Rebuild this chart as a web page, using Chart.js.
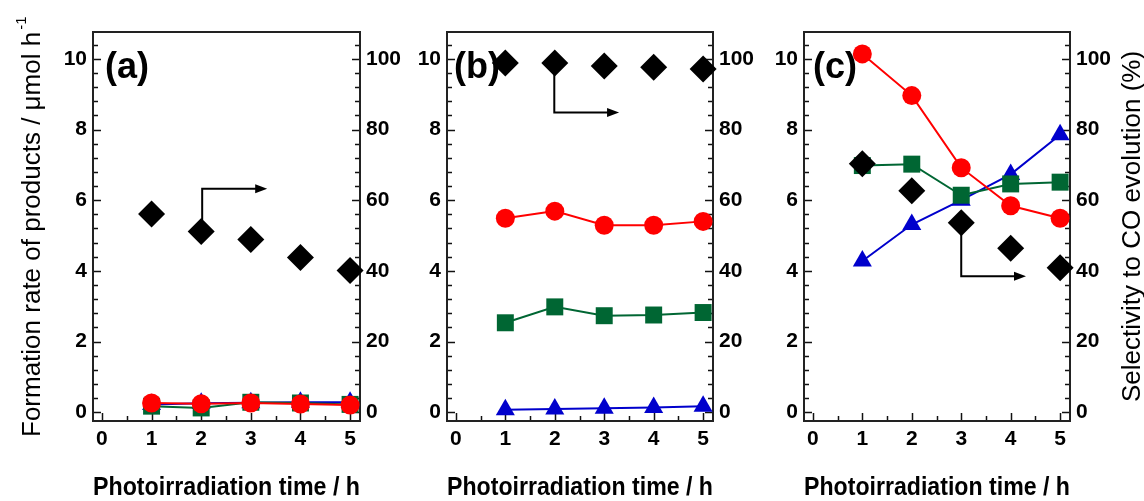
<!DOCTYPE html>
<html>
<head>
<meta charset="utf-8">
<title>Photoirradiation time course</title>
<script src="https://cdn.jsdelivr.net/npm/chart.js@4.4.1/dist/chart.umd.min.js"></script>
<style>
  html, body { margin: 0; padding: 0; background: #fff; }
  #wrap { position: relative; width: 1144px; height: 501px; overflow: hidden; }
  #wrap canvas { position: absolute; top: 0; }
</style>
</head>
<body>
<div id="wrap">
  <canvas id="chartA" width="410" height="501" style="left:0px"></canvas>
  <canvas id="chartB" width="370" height="501" style="left:400px"></canvas>
  <canvas id="chartC" width="384" height="501" style="left:760px"></canvas>
</div>

<script>
// x values (h) and tick labels
const hours = [1, 2, 3, 4, 5];
const xTicks = [0, 1, 2, 3, 4, 5];
const rateTicks = [0, 2, 4, 6, 8, 10];
const selTicks = [0, 20, 40, 60, 80, 100];

// (a) formation rate / umol h-1 and CO selectivity / %
const coA = [0.26, 0.24, 0.26, 0.23, 0.20];
const o2A = [0.17, 0.12, 0.28, 0.26, 0.22];
const h2A = [0.22, 0.25, 0.27, 0.28, 0.28];
const selA = [56.1, 51.1, 48.9, 43.8, 40.1];

// (b)
const coB = [5.49, 5.69, 5.29, 5.29, 5.40];
const o2B = [2.53, 2.98, 2.73, 2.75, 2.82];
const h2B = [0.07, 0.09, 0.11, 0.13, 0.17];
const selB = [98.8, 98.8, 98.0, 97.6, 97.1];

// (c)
const coC = [10.14, 8.96, 6.92, 5.84, 5.49];
const o2C = [6.98, 7.02, 6.14, 6.46, 6.51];
const h2C = [4.28, 5.31, 6.00, 6.73, 7.85];
const selC = [70.3, 62.7, 53.6, 46.4, 40.9];

const FONT = '"Liberation Sans", Arial, sans-serif';
const RED = "#ff0000";
const GREEN = "#006633";
const BLUE = "#0000cc";

function pts(arr) {
  return hours.map((h, i) => ({ x: h, y: arr[i] }));
}

// inward ticks, frame, panel letter, arrow and rotated axis titles
const decor = {
  id: "decor",
  beforeDatasetsDraw(chart, args, opts) {
    const { ctx, chartArea: a, scales } = chart;
    const x = scales.x, y = scales.y;
    ctx.save();
    ctx.strokeStyle = "#111";
    ctx.lineWidth = 1.5;
    ctx.beginPath();
    for (let k = 0; k <= 26; k++) {
      const py = Math.round(y.getPixelForValue(k * 0.4)) + 0.5;
      const len = k % 5 === 0 ? 8 : 5;
      ctx.moveTo(a.left, py); ctx.lineTo(a.left + len, py);
      ctx.moveTo(a.right, py); ctx.lineTo(a.right - len, py);
    }
    for (let k = 0; k <= 10; k++) {
      const px = Math.round(x.getPixelForValue(k * 0.5)) + 0.5;
      const len = k % 2 === 0 ? 8 : 5;
      ctx.moveTo(px, a.bottom); ctx.lineTo(px, a.bottom - len);
    }
    ctx.stroke();
    ctx.lineWidth = 2;
    ctx.strokeStyle = "#222";
    ctx.strokeRect(a.left, a.top, a.right - a.left, a.bottom - a.top);

    // selectivity arrow
    if (opts.arrow) {
      const p = opts.arrow.map(q => [x.getPixelForValue(q[0]), y.getPixelForValue(q[1])]);
      ctx.strokeStyle = "#000";
      ctx.fillStyle = "#000";
      ctx.lineWidth = 2;
      ctx.beginPath();
      ctx.moveTo(p[0][0], p[0][1]);
      for (let i = 1; i < p.length; i++) ctx.lineTo(p[i][0] - (i === p.length - 1 ? 8 : 0), p[i][1]);
      ctx.stroke();
      const [ex, ey] = p[p.length - 1];
      ctx.beginPath();
      ctx.moveTo(ex, ey);
      ctx.lineTo(ex - 12, ey - 4.5);
      ctx.lineTo(ex - 12, ey + 4.5);
      ctx.closePath();
      ctx.fill();
    }

    // panel letter
    ctx.fillStyle = "#000";
    ctx.font = "bold 36px " + FONT;
    ctx.textAlign = "left";
    ctx.textBaseline = "alphabetic";
    ctx.fillText(opts.letter, x.getPixelForValue(0) + opts.letterDx, 78);
    ctx.restore();
  },
  afterDraw(chart, args, opts) {
    const { ctx } = chart;
    ctx.save();
    ctx.fillStyle = "#000";
    ctx.textAlign = "left";
    ctx.textBaseline = "alphabetic";
    if (opts.leftTitle) {
      ctx.translate(40, 437);
      ctx.rotate(-Math.PI / 2);
      ctx.font = "26px " + FONT;
      ctx.fillText(opts.leftTitle, 0, 0);
      const w = ctx.measureText(opts.leftTitle).width;
      ctx.font = "15px " + FONT;
      ctx.fillText("-1", w + 2, -14);
    }
    if (opts.rightTitle) {
      ctx.translate(380, 402);
      ctx.rotate(-Math.PI / 2);
      ctx.font = "26px " + FONT;
      ctx.fillText(opts.rightTitle, 0, 0);
    }
    ctx.restore();
  }
};

function makePanel(id, data, layout, deco) {
  const tickFont = { family: FONT, size: 21, weight: "bold" };

  return new Chart(document.getElementById(id), {
    type: "line",
    data: {
      datasets: [
        {
          label: "Selectivity",
          data: pts(data.sel),
          yAxisID: "y2",
          showLine: false,
          pointStyle: "rectRot",
          pointRadius: 13.5,
          pointBackgroundColor: "#000",
          pointBorderColor: "#000",
          pointBorderWidth: 0,
          order: 0
        },
        {
          label: "CO",
          data: pts(data.co),
          yAxisID: "y",
          borderColor: RED,
          borderWidth: 2,
          pointStyle: "circle",
          pointRadius: 9.5,
          pointBackgroundColor: RED,
          pointBorderColor: RED,
          pointBorderWidth: 0,
          order: 1
        },
        {
          label: "O2",
          data: pts(data.o2),
          yAxisID: "y",
          borderColor: GREEN,
          borderWidth: 2,
          pointStyle: "rect",
          pointRadius: 12,
          pointBackgroundColor: GREEN,
          pointBorderColor: GREEN,
          pointBorderWidth: 0,
          order: 2
        },
        {
          label: "H2",
          data: pts(data.h2),
          yAxisID: "y",
          borderColor: BLUE,
          borderWidth: 2,
          pointStyle: "triangle",
          pointRadius: 11,
          pointBackgroundColor: BLUE,
          pointBorderColor: BLUE,
          pointBorderWidth: 0,
          order: 3
        }
      ]
    },
    options: {
      responsive: false,
      animation: false,
      clip: false,
      layout: { padding: { top: 32, left: 0, right: 0, bottom: 0 } },
      plugins: {
        legend: { display: false },
        tooltip: { enabled: false },
        decor: deco
      },
      elements: { line: { tension: 0, fill: false } },
      scales: {
        x: {
          type: "linear",
          min: -0.18,
          max: 5.2,
          afterBuildTicks: s => { s.ticks = xTicks.map(v => ({ value: v })); },
          afterFit: s => { s.height = 80; },
          grid: { display: false, drawTicks: false },
          border: { display: false },
          ticks: { font: tickFont, color: "#000", padding: 6, maxRotation: 0 },
          title: {
            display: true,
            text: "Photoirradiation time / h",
            color: "#000",
            font: { family: FONT, size: 25, weight: "bold", lineHeight: 1 },
            padding: { top: 0, bottom: 0 }
          }
        },
        y: {
          position: "left",
          min: -0.25,
          max: 10.76,
          afterBuildTicks: s => { s.ticks = rateTicks.map(v => ({ value: v })); },
          afterFit: s => { s.width = layout.left; },
          grid: { display: false, drawTicks: false },
          border: { display: false },
          ticks: { font: tickFont, color: "#000", padding: 6 }
        },
        y2: {
          position: "right",
          min: -2.5,
          max: 107.6,
          afterBuildTicks: s => { s.ticks = selTicks.map(v => ({ value: v })); },
          afterFit: s => { s.width = layout.right; },
          grid: { display: false, drawTicks: false },
          border: { display: false },
          ticks: { font: tickFont, color: "#000", padding: 6 }
        }
      }
    },
    plugins: [decor]
  });
}

makePanel("chartA",
  { co: coA, o2: o2A, h2: h2A, sel: selA },
  { left: 93, right: 50 },
  {
    letter: "(a)", letterDx: 3,
    arrow: [[2.02, 5.44], [2.02, 6.32], [3.33, 6.32]],
    leftTitle: "Formation rate of products / \u03bcmol h"
  });

makePanel("chartB",
  { co: coB, o2: o2B, h2: h2B, sel: selB },
  { left: 47, right: 57 },
  {
    letter: "(b)", letterDx: -2,
    arrow: [[1.99, 9.75], [1.99, 8.48], [3.3, 8.48]]
  });

makePanel("chartC",
  { co: coC, o2: o2C, h2: h2C, sel: selC },
  { left: 44, right: 74 },
  {
    letter: "(c)", letterDx: 0,
    arrow: [[3.0, 5.2], [3.0, 3.85], [4.31, 3.85]],
    rightTitle: "Selectivity to CO evolution (%)"
  });
</script>
</body>
</html>
